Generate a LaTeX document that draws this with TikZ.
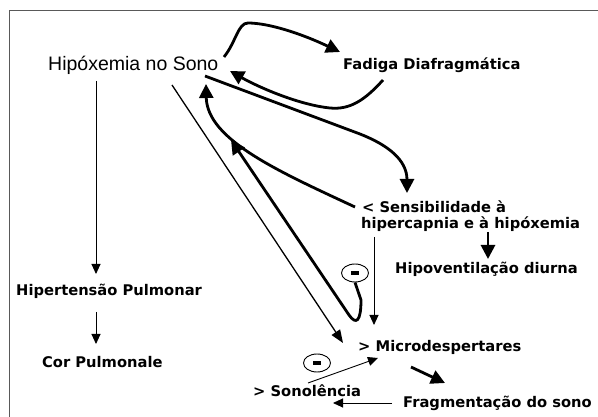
\documentclass[tikz,border=0pt]{standalone}
\usepackage{fontspec}
\setmainfont{Liberation Sans}
\newfontfamily\vfont{DejaVu Sans}
\usetikzlibrary{arrows.meta,shapes.geometric}
\begin{document}
\begin{tikzpicture}[x=1pt,y=-1pt,
  lbl/.style={anchor=base west,inner sep=0pt,font=\vfont\bfseries\fontsize{14.7}{17}\selectfont,align=left},
  thickarr/.style={line width=2.8pt,-{Triangle[length=14pt,width=14pt]}},
  thinarr/.style={line width=0.9pt,-{Triangle[length=10pt,width=9pt]}},
  midarr/.style={line width=1.3pt,-{Triangle[length=13pt,width=10pt]}},
  minusnode/.style={draw,ellipse,line width=0.9pt,minimum width=27pt,minimum height=18pt,inner sep=0pt}]
\useasboundingbox (0,0) rectangle (598,417);
\fill[white] (0,0) rectangle (598,417);
\draw[line width=1pt,black!65] (598,11) -- (9,11) -- (9,417);

% text nodes
\node[anchor=base west,inner sep=0pt,font=\fontsize{19.5}{22}\selectfont] (hip) at (48,71) {Hipóxemia no Sono};
\node[lbl] (fad) at (343,70) {Fadiga Diafragmática};
\node[lbl] (sen) at (362,213) {< Sensibilidade à};
\node[lbl] (sen2) at (361,229) {hipercapnia e à hipóxemia};
\node[lbl] (hvd) at (395,273) {Hipoventilação diurna};
\node[lbl] (hpt) at (16,295) {Hipertensão Pulmonar};
\node[lbl] (cor) at (42,367) {Cor Pulmonale};
\node[lbl] (mic) at (358,352) {> Microdespertares};
\node[lbl] (son) at (253,396) {> Sonolência};
\node[lbl] (fra) at (403,407) {Fragmentação do sono};
\node[minusnode] (m1) at (355,273) {\rule[-1.75pt]{8pt}{3.5pt}};
\node[minusnode] (m2) at (317,363) {\rule[-1.75pt]{8pt}{3.5pt}};

% connector end points
\coordinate (hipS) at (96,81);
\coordinate (hptN) at (96,274);
\coordinate (hptS) at (96,312);
\coordinate (corN) at (96,344);
\coordinate (hipE) at (224,57);
\coordinate (fadW) at (340,52);
\coordinate (fadS) at (383,80);
\coordinate (hipE2) at (230,71);
\coordinate (hipSE) at (205,76);
\coordinate (senN) at (407,193);
\coordinate (senW) at (355,207);
\coordinate (hipSE2) at (206,84);
\coordinate (loopTip) at (231,140);
\coordinate (hipSE3) at (172,85);
\coordinate (micNW) at (343,343);
\coordinate (senS) at (374,237);
\coordinate (micN) at (374,325);
\coordinate (sen2S) at (488,232);
\coordinate (hvdN) at (488,259);
\coordinate (micSE) at (411,367);
\coordinate (fraNW) at (445,383);
\coordinate (fraW) at (392,403);
\coordinate (sonE) at (333,403);
\coordinate (sonNE) at (308,383);
\coordinate (micSW) at (378,358);

% connectors
\draw[thinarr] (hipS) -- (hptN);
\draw[thinarr] (hptS) -- (corN);
\draw[thickarr] (hipE) .. controls (236,42) and (238,23) .. (248,23)
   .. controls (268,23) and (300,33) .. (fadW);
\draw[thickarr] (fadS) .. controls (365,100) and (350,110) .. (330,108)
   .. controls (300,105) and (260,88) .. (hipE2);
\draw[thickarr] (hipSE) -- (360,134) .. controls (388,145) and (407,160) .. (senN);
\draw[thickarr] (senW) .. controls (280,172) and (207,140) .. (hipSE2);
\draw[thickarr] (m1.south) -- (361,300) .. controls (361,322) and (356,325) .. (349,315) -- (loopTip);
\draw[midarr] (hipSE3) -- (micNW);
\draw[thinarr] (senS) -- (micN);
\draw[thickarr] (sen2S) -- (hvdN);
\draw[thickarr] (micSE) -- (fraNW);
\draw[thinarr] (fraW) -- (sonE);
\draw[thinarr] (sonNE) -- (micSW);
\end{tikzpicture}
\end{document}
